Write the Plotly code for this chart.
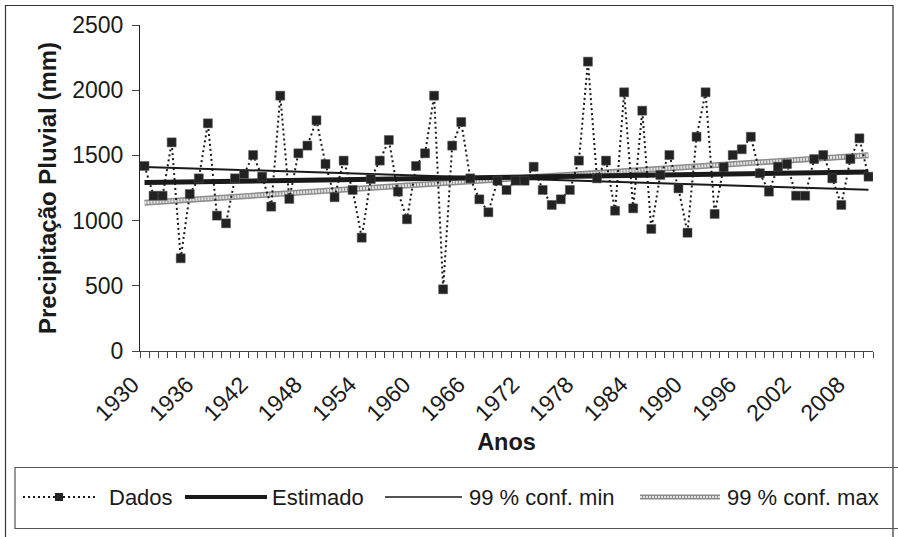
import plotly.graph_objects as go

# ---------------- data ----------------
years = list(range(1930, 2011))
dados = [
    1419, 1191, 1191, 1600, 711, 1204, 1324, 1746, 1038, 979,
    1324, 1357, 1503, 1337, 1107, 1958, 1166, 1516, 1575, 1769,
    1434, 1179, 1460, 1235, 869, 1319, 1460, 1618, 1222, 1010,
    1419, 1516, 1958, 473, 1575, 1756, 1324, 1163, 1064, 1306,
    1235, 1306, 1306, 1413, 1235, 1120, 1163, 1235, 1460, 2219,
    1324, 1460, 1076, 1984, 1094, 1843, 936, 1350, 1503, 1247,
    907, 1643, 1984, 1051, 1409, 1503, 1547, 1643, 1363, 1222,
    1413, 1434, 1191, 1191, 1472, 1503, 1324, 1120, 1472, 1631,
    1337,
]
trend_years = [1930, 2010]
estimado = [1292, 1372]
conf_min = [1412, 1236]
conf_max = [1137, 1502]
tick_years = [1930, 1936, 1942, 1948, 1954, 1960, 1966, 1972, 1978, 1984, 1990, 1996, 2002, 2008]

legend_labels = ["Dados", "Estimado", "99 % conf. min", "99 % conf. max"]

# ---------------- layout geometry (pixels) ----------------
W, H = 898, 537
PL, PR, PT, PB = 140, 873, 25, 351  # plot area
FONT = "Liberation Sans, Arial, sans-serif"
INK = "#1a1a1a"
BAND_DARK = "#8c8c8c"
BAND_LIGHT = "#e2e2e2"


def px(xp):
    return (xp - PL) / (PR - PL)


def py(yp):
    return (PB - yp) / (PB - PT)


fig = go.Figure()

# 99 % conf. max (hatched band look)
fig.add_trace(go.Scatter(x=trend_years, y=conf_max, mode="lines",
                         line=dict(color=BAND_DARK, width=6), hoverinfo="skip"))
fig.add_trace(go.Scatter(x=trend_years, y=conf_max, mode="lines",
                         line=dict(color=BAND_LIGHT, width=3, dash="2px,1px"), hoverinfo="skip"))
# 99 % conf. min
fig.add_trace(go.Scatter(x=trend_years, y=conf_min, mode="lines",
                         line=dict(color=INK, width=2)))
# Estimado
fig.add_trace(go.Scatter(x=trend_years, y=estimado, mode="lines",
                         line=dict(color=INK, width=5)))
# Dados
fig.add_trace(go.Scatter(x=years, y=dados, mode="lines+markers",
                         line=dict(color=INK, width=2, dash="2px,3px"),
                         marker=dict(symbol="square", size=9, color="#222",
                                     line=dict(color="#555", width=0.5))))

shapes = []
annotations = []
# outer frame
shapes.append(dict(type="rect", xref="paper", yref="paper",
                   x0=px(5.5), x1=px(893), y0=py(545), y1=py(5.5),
                   line=dict(color="#333", width=1.2), fillcolor="rgba(0,0,0,0)", layer="below"))
# legend box
shapes.append(dict(type="rect", xref="paper", yref="paper",
                   x0=px(15), x1=px(900), y0=py(528.5), y1=py(467.5),
                   line=dict(color="#555", width=1.2), fillcolor="rgba(0,0,0,0)"))

LY = py(497)
# Dados sample
shapes.append(dict(type="line", xref="paper", yref="paper", x0=px(23), x1=px(95), y0=LY, y1=LY,
                   line=dict(color=INK, width=2, dash="2px,3px")))
shapes.append(dict(type="rect", xref="paper", yref="paper", x0=px(55), x1=px(63),
                   y0=py(501), y1=py(493), line=dict(width=0), fillcolor="#222"))
# Estimado sample
shapes.append(dict(type="line", xref="paper", yref="paper", x0=px(185), x1=px(267), y0=LY, y1=LY,
                   line=dict(color=INK, width=4)))
# conf min sample
shapes.append(dict(type="line", xref="paper", yref="paper", x0=px(385), x1=px(462), y0=LY, y1=LY,
                   line=dict(color=INK, width=1.5)))
# conf max sample
shapes.append(dict(type="line", xref="paper", yref="paper", x0=px(640), x1=px(720), y0=LY, y1=LY,
                   line=dict(color=BAND_DARK, width=5)))
shapes.append(dict(type="line", xref="paper", yref="paper", x0=px(640), x1=px(720), y0=LY, y1=LY,
                   line=dict(color=BAND_LIGHT, width=2, dash="2px,1px")))

for lbl, xl in zip(legend_labels, [107, 270, 467, 725]):
    annotations.append(dict(text=lbl, xref="paper", yref="paper", x=px(xl), y=LY,
                            xanchor="left", yanchor="middle", showarrow=False,
                            font=dict(family=FONT, size=22, color=INK)))

fig.update_layout(
    width=W, height=H,
    margin=dict(l=PL, r=W - PR, t=PT, b=H - PB, pad=0),
    paper_bgcolor="white", plot_bgcolor="white",
    showlegend=False,
    font=dict(family=FONT, size=23, color=INK),
    shapes=shapes, annotations=annotations,
    xaxis=dict(
        range=[1929.5, 2010.5], tickmode="array", tickvals=tick_years,
        ticktext=[str(t) for t in tick_years], tickangle=-45,
        ticks="outside", ticklen=6, tickcolor="rgba(0,0,0,0)",
        ticklabelshift=-12, ticklabelstandoff=4,
        minor=dict(tick0=1929.5, dtick=1, ticks="outside", ticklen=6, tickcolor="#444", tickwidth=1),
        showline=True, linecolor="#444", linewidth=1, showgrid=False, zeroline=False,
        tickfont=dict(family=FONT, size=23, color=INK),
        title=dict(text="<b>Anos</b>", font=dict(family=FONT, size=23.5, color=INK), standoff=8),
    ),
    yaxis=dict(
        range=[0, 2500], tickvals=[0, 500, 1000, 1500, 2000, 2500],
        ticks="outside", ticklen=7, tickcolor="#444", ticklabelstandoff=4,
        showline=True, linecolor="#222", linewidth=1, showgrid=False, zeroline=False,
        tickfont=dict(family=FONT, size=23, color=INK),
        title=dict(text="<b>Precipitação Pluvial (mm)</b>", font=dict(family=FONT, size=24, color=INK), standoff=8),
    ),
)

fig.write_html("out.html")
